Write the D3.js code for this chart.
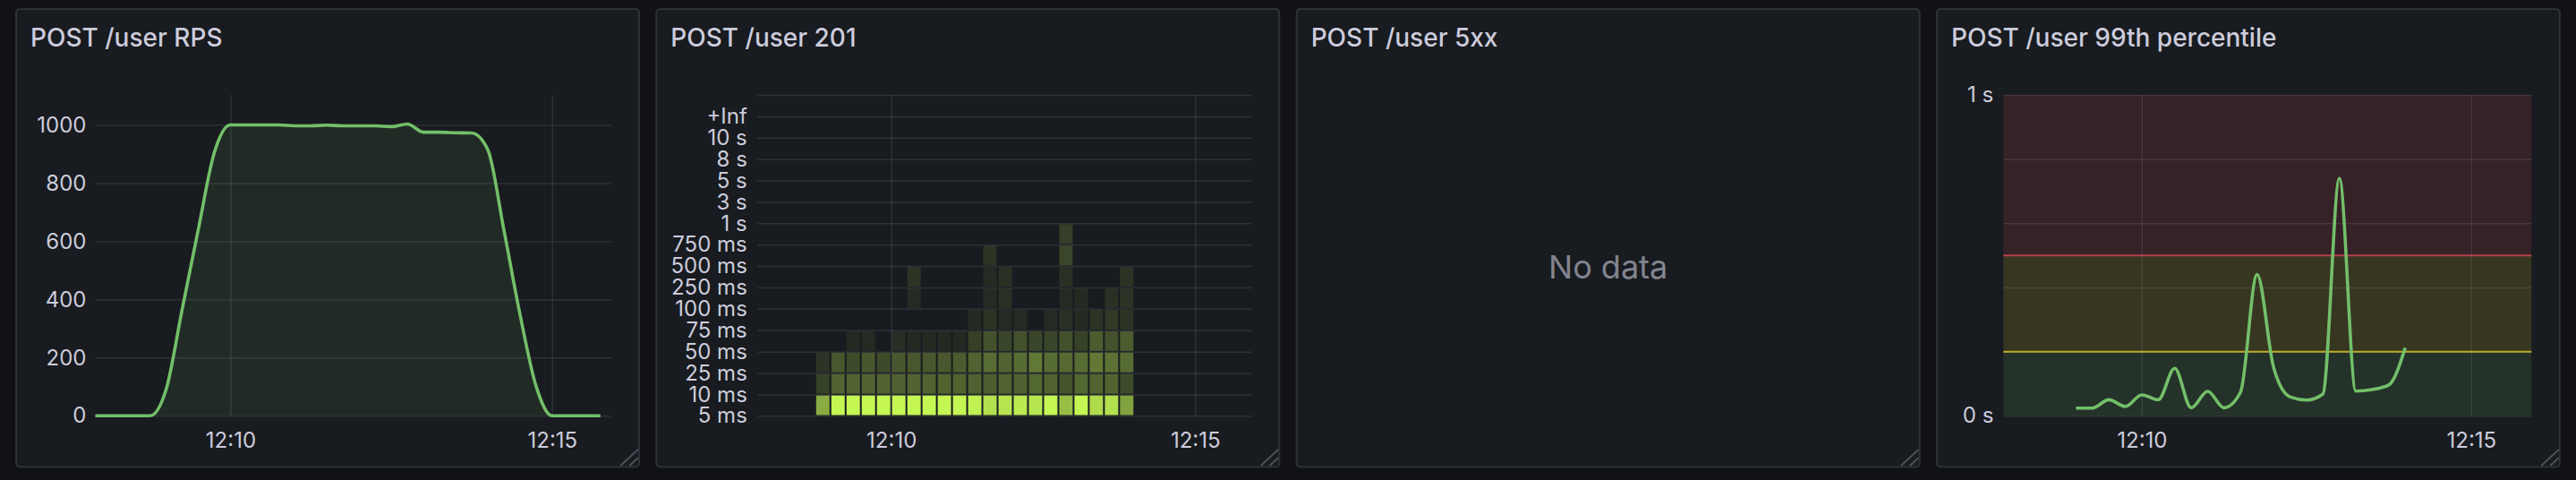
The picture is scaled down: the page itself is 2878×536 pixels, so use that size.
<!DOCTYPE html>
<html><head><meta charset="utf-8">
<script src="https://cdn.jsdelivr.net/npm/d3@7"></script>
<style>
html,body{margin:0;padding:0;background:#111217;overflow:hidden;}
svg{display:block;}
text{font-family:Inter,"Noto Sans",sans-serif;}
</style></head><body>
<svg id="c" width="2878" height="536"></svg>
<script>
// ---------- data ----------
const panelTitles = ["POST /user RPS", "POST /user 201", "POST /user 5xx", "POST /user 99th percentile"];
const noDataText = "No data";

const timeTicks = ["12:10:00", "12:15:00"];
const timeTickLabels = ["12:10", "12:15"];
const lineRange = ["12:07:54", "12:15:55"];
const heatRange = ["12:07:48", "12:15:56"];

// Panel 1: requests per second
const rpsTimes = ["12:07:45","12:08:00","12:08:15","12:08:30","12:08:45","12:09:00","12:09:15","12:09:30","12:09:45",
  "12:10:00","12:10:15","12:10:30","12:10:45","12:11:00","12:11:15","12:11:30","12:11:45","12:12:00","12:12:15",
  "12:12:30","12:12:45","12:13:00","12:13:15","12:13:30","12:13:45","12:14:00","12:14:15","12:14:30","12:14:45",
  "12:15:00","12:15:15","12:15:30","12:15:45"];
const rpsValues = [0,0,0,0,0,90,366,640,905,
  1000,1000,1000,1000,997,997,999,997,997,997,
  994,1003,975,975,973,972,915,640,350,103,
  0,0,0,0];
const rpsTicks = [0,200,400,600,800,1000];
const rpsMax = 1103;

// Panel 2: heatmap of 201 latency buckets
const heatBucketLabels = ["5 ms","10 ms","25 ms","50 ms","75 ms","100 ms","250 ms","500 ms","750 ms","1 s","3 s","5 s","8 s","10 s","+Inf"];
const heatTimes = ["12:08:45","12:09:00","12:09:15","12:09:30","12:09:45","12:10:00","12:10:15","12:10:30","12:10:45",
  "12:11:00","12:11:15","12:11:30","12:11:45","12:12:00","12:12:15","12:12:30","12:12:45","12:13:00","12:13:15",
  "12:13:30","12:13:45"];
const heatStepSeconds = 15;
const heatCounts = [
  [5230,12000,12000,12000,12000,12000,12000,12000,12000,12000,11520,9720,10160,10830,10380,12000,6750,12000,9290,9720,4610],
  [390,1310,1310,1310,1310,1230,1310,1310,1310,1310,1230,1150,1310,1230,1470,1310,810,1470,1310,1310,580],
  [170,940,580,940,580,940,940,940,940,1080,1310,1640,1310,1640,2220,1640,1560,1640,2220,1920,1640],
  [0,0,60,77,0,97,60,60,60,60,350,750,480,750,480,480,750,390,1080,750,1080],
  [0,0,0,0,0,0,0,0,0,0,77,170,77,77,0,77,120,77,170,235,170],
  [0,0,0,0,0,0,77,0,0,0,0,77,120,0,0,0,77,77,0,120,170],
  [0,0,0,0,0,0,170,0,0,0,0,77,120,0,0,0,120,0,0,0,170],
  [0,0,0,0,0,0,0,0,0,0,0,170,0,0,0,0,480,0,0,0,0],
  [0,0,0,0,0,0,0,0,0,0,0,0,0,0,0,0,310,0,0,0,0],
  [0,0,0,0,0,0,0,0,0,0,0,0,0,0,0,0,0,0,0,0,0],
  [0,0,0,0,0,0,0,0,0,0,0,0,0,0,0,0,0,0,0,0,0],
  [0,0,0,0,0,0,0,0,0,0,0,0,0,0,0,0,0,0,0,0,0],
  [0,0,0,0,0,0,0,0,0,0,0,0,0,0,0,0,0,0,0,0,0],
  [0,0,0,0,0,0,0,0,0,0,0,0,0,0,0,0,0,0,0,0,0],
  [0,0,0,0,0,0,0,0,0,0,0,0,0,0,0,0,0,0,0,0,0]
];

// Panel 4: 99th percentile latency (seconds)
const p99Times = ["12:09:00","12:09:15","12:09:30","12:09:45","12:10:00","12:10:15","12:10:30","12:10:45","12:11:00",
  "12:11:15","12:11:30","12:11:45","12:12:00","12:12:15","12:12:30","12:12:45","12:13:00","12:13:15","12:13:30",
  "12:13:45","12:14:00"];
const p99Values = [0.024,0.024,0.05,0.029,0.065,0.05,0.148,0.025,0.076,0.025,0.074,0.44,0.152,0.059,0.049,0.068,0.74,0.077,0.082,0.096,0.212];
const p99Ticks = [0,0.2,0.4,0.6,0.8,1];
const p99TickLabels = ["0 s","","","","","1 s"];
const thresholdSteps = [0, 0.2, 0.5];
const thresholdColors = ["#73bf69", "#fade2a", "#f2495c"];

// ---------- styles ----------
const BG = "#111217", PANEL = "#181b1f", BORDER = "rgba(204,204,220,0.15)";
const TEXT = "#ccccdc", TEXT2 = "rgba(204,204,220,0.62)", GRID = "rgba(204,204,220,0.12)";
const GREEN = "#73bf69", HEAT = "#c4f654";
const LINE_W = 3.6;

const parseT = d3.timeParse("%H:%M:%S");
const svg = d3.select("#c");
svg.append("rect").attr("width", 2878).attr("height", 536).attr("fill", BG);

const PW = 698, PY = 9, PH = 513.5;
const panelX = i => 17 + i * 715.33;
const plotTop = 106, plotBottom = 464.3;

const panels = svg.selectAll("g.panel").data(panelTitles).join("g")
  .attr("class", "panel").attr("transform", (d, i) => `translate(${panelX(i)},${PY})`);
panels.append("rect").attr("x", 1).attr("y", 1).attr("width", PW - 2).attr("height", PH - 2)
  .attr("rx", 4).attr("fill", PANEL).attr("stroke", BORDER).attr("stroke-width", 2);
panels.append("text").attr("x", 17).attr("y", 51.7 - PY).attr("fill", TEXT)
  .attr("font-size", 28).attr("font-weight", 500).text(d => d);
panels.append("path")
  .attr("d", `M${PW-21.7},${PH-2.5}L${PW-2.3},${PH-20.5}M${PW-11.7},${PH-2.5}L${PW-2.3},${PH-11.2}`)
  .attr("stroke", "rgba(204,204,220,0.3)").attr("stroke-width", 2).attr("fill", "none");

function styleAxis(g) {
  g.select(".domain").remove();
  g.selectAll(".tick line").attr("stroke", GRID).attr("stroke-width", 1.5);
  g.selectAll(".tick text").attr("fill", TEXT).attr("font-size", 24)
    .attr("font-family", "Inter, 'Noto Sans', sans-serif");
}

function timeAxis(g, x, top, bottom) {
  const ax = g.append("g").attr("transform", `translate(0,${bottom})`)
    .call(d3.axisBottom(x).tickValues(timeTicks.map(parseT))
      .tickFormat((d, i) => timeTickLabels[i]).tickSize(-(bottom - top)).tickPadding(19));
  styleAxis(ax);
}

// ---------- Panel 1: RPS ----------
{
  const L = 106.5, R = 682.7;
  const x = d3.scaleTime().domain(lineRange.map(parseT)).range([L, R]);
  const y = d3.scaleLinear().domain([0, rpsMax]).range([plotBottom, plotTop]);
  const g = svg.append("g");
  const ay = g.append("g").attr("transform", `translate(${L},0)`)
    .call(d3.axisLeft(y).tickValues(rpsTicks).tickFormat(d3.format("d")).tickSize(-(R - L)).tickPadding(10));
  styleAxis(ay);
  timeAxis(g, x, plotTop, plotBottom);
  svg.append("clipPath").attr("id", "clip1").append("rect")
    .attr("x", L).attr("y", plotTop - 5).attr("width", R - L).attr("height", plotBottom - plotTop + 10);
  const data = rpsTimes.map((t, i) => ({t: parseT(t), v: rpsValues[i]}));
  const cg = g.append("g").attr("clip-path", "url(#clip1)");
  cg.append("path").datum(data)
    .attr("d", d3.area().x(d => x(d.t)).y0(y(0)).y1(d => y(d.v)).curve(d3.curveMonotoneX))
    .attr("fill", GREEN).attr("fill-opacity", 0.1);
  cg.append("path").datum(data)
    .attr("d", d3.line().x(d => x(d.t)).y(d => y(d.v)).curve(d3.curveMonotoneX))
    .attr("fill", "none").attr("stroke", GREEN).attr("stroke-width", LINE_W).attr("stroke-linejoin", "round");
}

// ---------- Panel 2: heatmap ----------
{
  const L = 846.3, R = 1398.6;
  const x = d3.scaleTime().domain(heatRange.map(parseT)).range([L, R]);
  const y = d3.scaleLinear().domain([0, heatBucketLabels.length]).range([plotBottom, plotTop]);
  const g = svg.append("g");
  const ay = g.append("g").attr("transform", `translate(${L},0)`)
    .call(d3.axisLeft(y).tickValues(d3.range(heatBucketLabels.length + 1))
      .tickFormat(i => heatBucketLabels[i] || "").tickSize(-(R - L)).tickPadding(11.5));
  styleAxis(ay);
  timeAxis(g, x, plotTop, plotBottom);
  const maxC = d3.max(heatCounts.flat());
  const op = d3.scaleSqrt().domain([0, maxC]).range([0, 1]);
  const cells = [];
  heatCounts.forEach((row, r) => row.forEach((c, j) => {
    if (c > 0) {
      const t0 = parseT(heatTimes[j]);
      cells.push({r, t0, t1: new Date(+t0 + heatStepSeconds * 1000), c});
    }
  }));
  g.append("g").selectAll("rect").data(cells).join("rect")
    .attr("x", d => x(d.t0) + 1)
    .attr("width", d => x(d.t1) - x(d.t0) - 2)
    .attr("y", d => y(d.r + 1) + 1.2)
    .attr("height", d => y(d.r) - y(d.r + 1) - 2)
    .attr("fill", HEAT).attr("fill-opacity", d => op(d.c));
}

// ---------- Panel 3: no data ----------
svg.append("text").attr("x", panelX(2) + PW / 2).attr("y", 311)
  .attr("text-anchor", "middle").attr("font-size", 36).attr("fill", TEXT2).text(noDataText);

// ---------- Panel 4: p99 ----------
{
  const L = 2238.3, R = 2828.3;
  const x = d3.scaleTime().domain(lineRange.map(parseT)).range([L, R]);
  const y = d3.scaleLinear().domain([0, 1]).range([plotBottom, plotTop]);
  const g = svg.append("g");
  const bounds = thresholdSteps.concat([1]);
  g.append("g").selectAll("rect").data(thresholdSteps).join("rect")
    .attr("x", L).attr("width", R - L)
    .attr("y", (d, i) => y(bounds[i + 1]))
    .attr("height", (d, i) => y(bounds[i]) - y(bounds[i + 1]))
    .attr("fill", (d, i) => thresholdColors[i]).attr("fill-opacity", 0.14);
  const ay = g.append("g").attr("transform", `translate(${L},0)`)
    .call(d3.axisLeft(y).tickValues(p99Ticks).tickFormat((d, i) => p99TickLabels[i])
      .tickSize(-(R - L)).tickPadding(11));
  styleAxis(ay);
  timeAxis(g, x, plotTop, plotBottom);
  g.append("g").selectAll("line").data(thresholdSteps.slice(1)).join("line")
    .attr("x1", L).attr("x2", R).attr("y1", d => y(d)).attr("y2", d => y(d))
    .attr("stroke", (d, i) => thresholdColors[i + 1]).attr("stroke-opacity", 0.68).attr("stroke-width", 2);
  const data = p99Times.map((t, i) => ({t: parseT(t), v: p99Values[i]}));
  g.append("path").datum(data)
    .attr("d", d3.line().x(d => x(d.t)).y(d => y(d.v)).curve(d3.curveMonotoneX))
    .attr("fill", "none").attr("stroke", GREEN).attr("stroke-width", LINE_W).attr("stroke-linejoin", "round");
}
</script>
</body></html>
